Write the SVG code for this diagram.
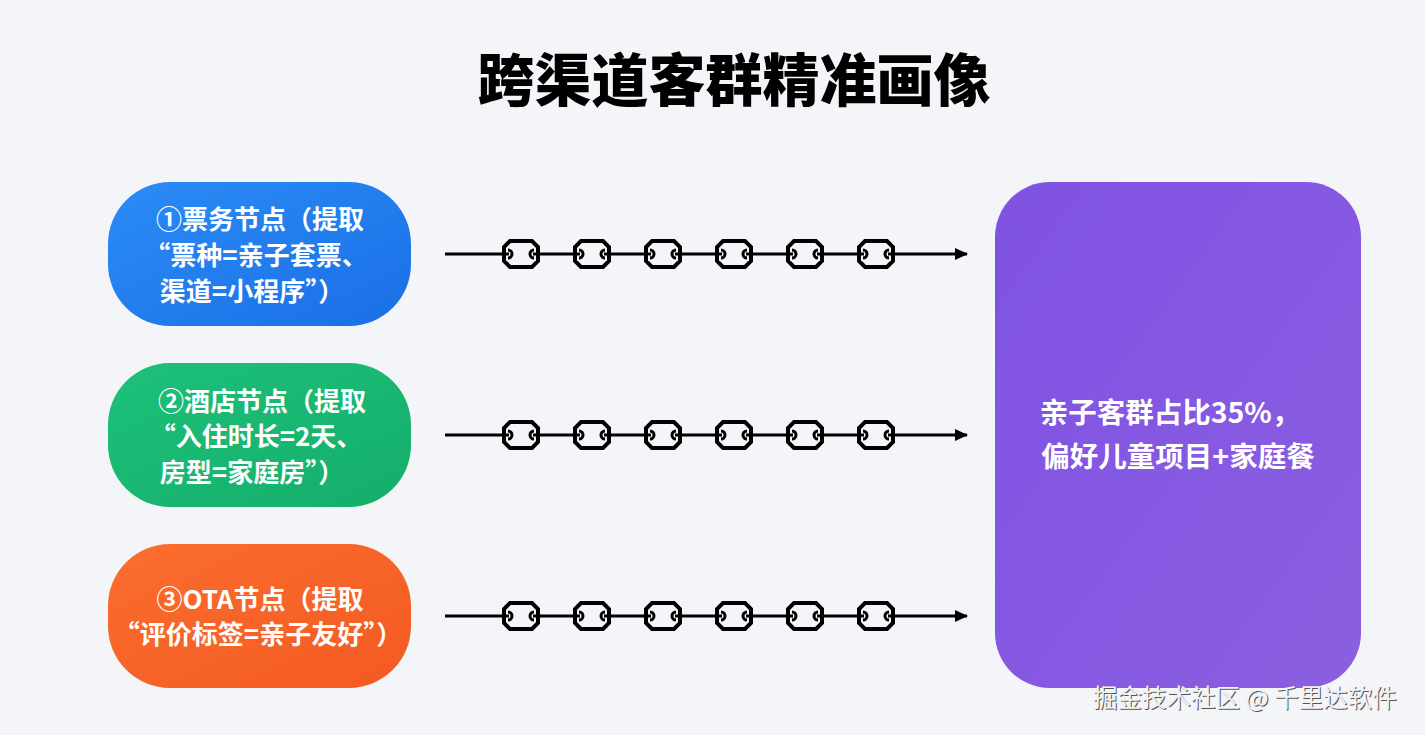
<svg xmlns="http://www.w3.org/2000/svg" xmlns:xlink="http://www.w3.org/1999/xlink" width="1425" height="735" viewBox="0 0 1425 735">
<style>
.nt{font-family:"Noto Sans CJK SC","Noto Sans",sans-serif;font-weight:700;font-size:26px;fill:#ffffff;text-anchor:middle}
.pt{font-family:"Noto Sans CJK SC","Noto Sans",sans-serif;font-weight:700;font-size:28.5px;fill:#ffffff;text-anchor:middle}
.title{font-family:"Noto Sans CJK SC",sans-serif;font-weight:900;font-size:57px;fill:#000;text-anchor:middle}
.conn{stroke:#000;stroke-width:3;fill:none}
.wm{font-family:"Noto Sans CJK SC",sans-serif;font-size:24.5px;font-weight:400}
</style>
<defs>
<linearGradient id="gb" x1="0" y1="0" x2="1" y2="1"><stop offset="0" stop-color="#2b8cf6"/><stop offset="1" stop-color="#1a6fe6"/></linearGradient>
<linearGradient id="gg" x1="0" y1="0" x2="1" y2="1"><stop offset="0" stop-color="#1dc07a"/><stop offset="1" stop-color="#14ae6a"/></linearGradient>
<linearGradient id="go" x1="0" y1="0" x2="1" y2="1"><stop offset="0" stop-color="#fb6d2e"/><stop offset="1" stop-color="#f35a22"/></linearGradient>
<linearGradient id="gp" x1="0" y1="0" x2="1" y2="1"><stop offset="0" stop-color="#7f52e3"/><stop offset="1" stop-color="#8a5fe0"/></linearGradient>
<marker id="arr" markerWidth="14" markerHeight="14" refX="12" refY="7" orient="auto" markerUnits="userSpaceOnUse"><path d="M0,1 L13,7 L0,13 Z" fill="#000"/></marker>
<g id="link">
<path d="M-11,-13 H11 L17,-7 V7 L11,13 H-11 L-17,7 V-7 Z" fill="#f3f5f8" stroke="#000" stroke-width="4" stroke-linejoin="miter"/>
<path d="M-17,0 H-12" stroke="#000" stroke-width="3"/>
<path d="M12,0 H17" stroke="#000" stroke-width="3"/>
<path d="M-13,-4 A4,4 0 0 1 -13,4" stroke="#000" stroke-width="3" fill="none"/>
<path d="M13,-4 A4,4 0 0 0 13,4" stroke="#000" stroke-width="3" fill="none"/>
</g>
</defs>
<rect width="1425" height="735" fill="#f3f5f8"/>
<text class="title" x="734" y="101">跨渠道客群精准画像</text>

<g id="node-ticket">
<rect x="108" y="182" width="303" height="144" rx="62" fill="url(#gb)"/>
<text class="nt" x="260" y="229">①票务节点（提取</text>
<text class="nt" x="256" y="265">“票种=亲子套票、</text>
<text class="nt" x="252" y="301">渠道=小程序”）</text>
</g>
<g id="node-hotel">
<rect x="108" y="363" width="303" height="144" rx="62" fill="url(#gg)"/>
<text class="nt" x="262" y="411">②酒店节点（提取</text>
<text class="nt" x="256" y="446">“入住时长=2天、</text>
<text class="nt" x="252" y="482">房型=家庭房”）</text>
</g>
<g id="node-ota">
<rect x="108" y="544" width="303" height="144" rx="62" fill="url(#go)"/>
<text class="nt" x="260" y="609">③OTA节点（提取</text>
<text class="nt" x="258" y="644">“评价标签=亲子友好”）</text>
</g>
<g id="node-result">
<rect x="995" y="182" width="366" height="506" rx="55" fill="url(#gp)"/>
<text class="pt" x="1170" y="423">亲子客群占比35%，</text>
<text class="pt" x="1178" y="467">偏好儿童项目+家庭餐</text>
</g>

<g id="connectors">
<path class="conn" d="M445,254 H967" marker-end="url(#arr)"/>
<use xlink:href="#link" x="521" y="254"/>
<use xlink:href="#link" x="592" y="254"/>
<use xlink:href="#link" x="663" y="254"/>
<use xlink:href="#link" x="734" y="254"/>
<use xlink:href="#link" x="805" y="254"/>
<use xlink:href="#link" x="876" y="254"/>
<path class="conn" d="M445,435 H967" marker-end="url(#arr)"/>
<use xlink:href="#link" x="521" y="435"/>
<use xlink:href="#link" x="592" y="435"/>
<use xlink:href="#link" x="663" y="435"/>
<use xlink:href="#link" x="734" y="435"/>
<use xlink:href="#link" x="805" y="435"/>
<use xlink:href="#link" x="876" y="435"/>
<path class="conn" d="M445,616 H967" marker-end="url(#arr)"/>
<use xlink:href="#link" x="521" y="616"/>
<use xlink:href="#link" x="592" y="616"/>
<use xlink:href="#link" x="663" y="616"/>
<use xlink:href="#link" x="734" y="616"/>
<use xlink:href="#link" x="805" y="616"/>
<use xlink:href="#link" x="876" y="616"/>
</g>

<text class="wm" x="1094" y="708" fill="#555">掘金技术社区 @ 千里达软件</text>
<text class="wm" x="1093" y="707" fill="#f2f2f2">掘金技术社区 @ 千里达软件</text>
</svg>
